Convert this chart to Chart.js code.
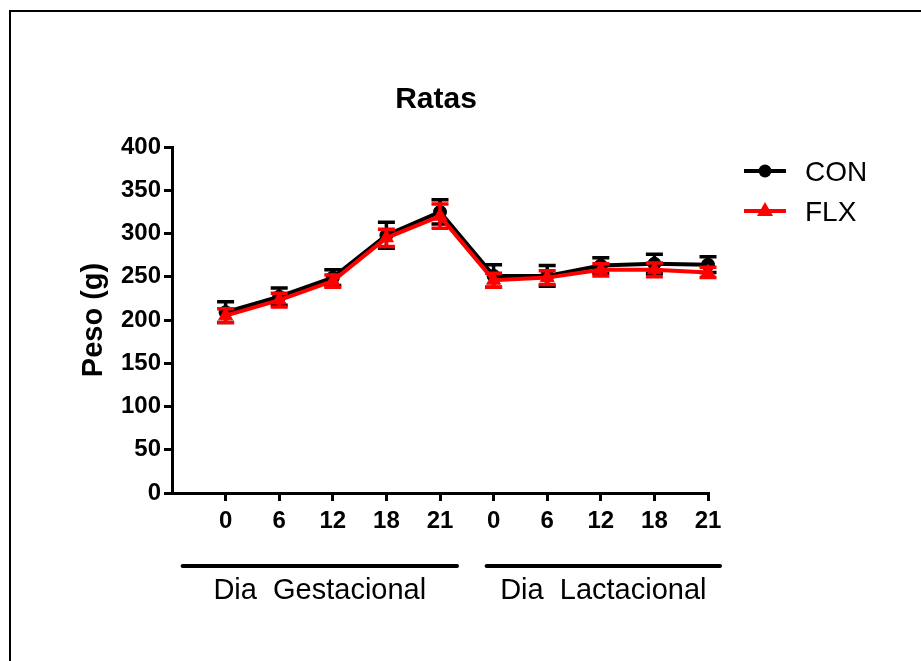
<!DOCTYPE html>
<html>
<head>
<meta charset="utf-8">
<script src="https://cdn.jsdelivr.net/npm/chart.js@4/dist/chart.umd.min.js"></script>
<style>
html,body{margin:0;padding:0;background:#fff;}
#wrap{width:921px;height:661px;position:relative;}
</style>
</head>
<body>
<div id="wrap"><canvas id="c" width="921" height="661"></canvas></div>
<script>
// ---- data ----
const xLabels = ['0','6','12','18','21','0','6','12','18','21'];
const groupLabels = ['Dia  Gestacional', 'Dia  Lactacional'];
const conValues = [209, 227, 249, 298, 325, 251, 251, 263, 265, 264];
const conErrors = [12, 10, 9, 15, 14, 13, 12, 9, 11, 9];
const flxValues = [205, 223, 245, 295, 320, 246, 249, 258, 258, 255];
const flxErrors = [8, 8, 7, 10, 14, 8, 8, 7, 8, 6];
const yTicks = [0, 50, 100, 150, 200, 250, 300, 350, 400];

const FONT = '"Liberation Sans", Arial, sans-serif';

const errorBars = {
  id: 'errorBars',
  beforeDatasetDraw(chart, args) {
    const ds = chart.data.datasets[args.index];
    if (!ds.errors) return;
    const y = chart.scales.y;
    const ctx = chart.ctx;
    ctx.save();
    ctx.strokeStyle = ds.borderColor;
    ctx.lineWidth = 3.5;
    args.meta.data.forEach((pt, i) => {
      const v = ds.data[i];
      if (v == null) return;
      const e = ds.errors[i - 1];
      const yt = y.getPixelForValue(v + e), yb = y.getPixelForValue(v - e);
      const x = pt.x;
      ctx.beginPath();
      ctx.moveTo(x, yt); ctx.lineTo(x, yb);
      ctx.moveTo(x - 8.5, yt); ctx.lineTo(x + 8.5, yt);
      ctx.moveTo(x - 8.5, yb); ctx.lineTo(x + 8.5, yb);
      ctx.stroke();
    });
    ctx.restore();
  }
};

const decor = {
  id: 'decor',
  beforeDraw(chart) {
    const ctx = chart.ctx;
    ctx.save();
    ctx.fillStyle = '#fff';
    ctx.fillRect(0, 0, chart.width, chart.height);
    ctx.strokeStyle = '#000';
    ctx.lineWidth = 2;
    ctx.beginPath();
    ctx.moveTo(10, chart.height); ctx.lineTo(10, 11); ctx.lineTo(chart.width, 11);
    ctx.stroke();
    ctx.restore();
  },
  afterDraw(chart) {
    const ctx = chart.ctx;
    const xs = chart.scales.x;
    ctx.save();
    // title
    ctx.fillStyle = '#000';
    ctx.font = 'bold 30px ' + FONT;
    ctx.textAlign = 'center';
    ctx.textBaseline = 'alphabetic';
    ctx.fillText('Ratas', 436, 108);
    // y title
    ctx.save();
    ctx.translate(102, 320);
    ctx.rotate(-Math.PI / 2);
    ctx.font = 'bold 29px ' + FONT;
    ctx.fillText('Peso (g)', 0, 0);
    ctx.restore();
    // group lines & labels
    ctx.lineWidth = 4;
    ctx.lineCap = 'round';
    const g1a = xs.getPixelForValue(1) - 43, g1b = xs.getPixelForValue(5) + 17;
    const g2a = xs.getPixelForValue(6) - 7, g2b = xs.getPixelForValue(10) + 12;
    [[g1a, g1b], [g2a, g2b]].forEach((s, k) => {
      ctx.beginPath();
      ctx.moveTo(s[0], 566); ctx.lineTo(s[1], 566);
      ctx.stroke();
      ctx.font = '29px ' + FONT;
      ctx.fillText(groupLabels[k], (s[0] + s[1]) / 2, 599);
    });
    // legend
    const items = [
      {label: chart.data.datasets[0].label, color: chart.data.datasets[0].borderColor, style: 'circle', y: 171},
      {label: chart.data.datasets[1].label, color: chart.data.datasets[1].borderColor, style: 'triangle', y: 211}
    ];
    items.forEach(it => {
      ctx.strokeStyle = it.color; ctx.fillStyle = it.color;
      ctx.lineWidth = 4; ctx.lineCap = 'butt';
      ctx.beginPath(); ctx.moveTo(744, it.y); ctx.lineTo(786, it.y); ctx.stroke();
      ctx.beginPath();
      if (it.style === 'circle') {
        ctx.arc(765, it.y, 6.5, 0, Math.PI * 2);
      } else {
        ctx.moveTo(765, it.y - 9); ctx.lineTo(773, it.y + 5); ctx.lineTo(757, it.y + 5); ctx.closePath();
      }
      ctx.fill();
      ctx.fillStyle = '#000';
      ctx.font = '28px ' + FONT;
      ctx.textAlign = 'left';
      ctx.fillText(it.label, 805, it.y + 10);
    });
    ctx.restore();
  }
};

const labels = [''].concat(xLabels);
new Chart(document.getElementById('c'), {
  type: 'line',
  data: {
    labels: labels,
    datasets: [
      {label: 'CON', data: [null].concat(conValues), errors: conErrors, borderColor: '#000000', backgroundColor: '#000000',
       borderWidth: 4, pointStyle: 'circle', pointRadius: 6.5, pointBorderWidth: 1, order: 1, tension: 0},
      {label: 'FLX', data: [null].concat(flxValues), errors: flxErrors, borderColor: '#FF0000', backgroundColor: '#FF0000',
       borderWidth: 4, pointStyle: 'triangle', pointRadius: 8, pointBorderWidth: 1, order: 0, tension: 0}
    ]
  },
  options: {
    responsive: false,
    animation: false,
    events: [],
    layout: {padding: {top: 147, right: 213, bottom: 128, left: 0}},
    plugins: {legend: {display: false}, title: {display: false}, tooltip: {enabled: false}},
    scales: {
      x: {
        type: 'category',
        offset: false,
        afterFit(s) { s.height = 40; },
        grid: {drawOnChartArea: false, drawTicks: true, tickLength: 8, lineWidth: 3,
               color: (c) => (c.index === 0 ? 'rgba(0,0,0,0)' : '#000')},
        border: {display: true, color: '#000', width: 3},
        ticks: {color: '#000', font: {family: FONT, size: 24, weight: 'bold'}, padding: 6, maxRotation: 0, autoSkip: false}
      },
      y: {
        min: 0, max: 400,
        afterFit(s) { s.width = 172; },
        afterBuildTicks(s) { s.ticks = yTicks.map(v => ({value: v})); },
        grid: {drawOnChartArea: false, drawTicks: true, tickLength: 8, lineWidth: 3, color: '#000'},
        border: {display: true, color: '#000', width: 3},
        ticks: {color: '#000', font: {family: FONT, size: 24, weight: 'bold'}, padding: 3}
      }
    }
  },
  plugins: [errorBars, decor]
});
</script>
</body>
</html>
